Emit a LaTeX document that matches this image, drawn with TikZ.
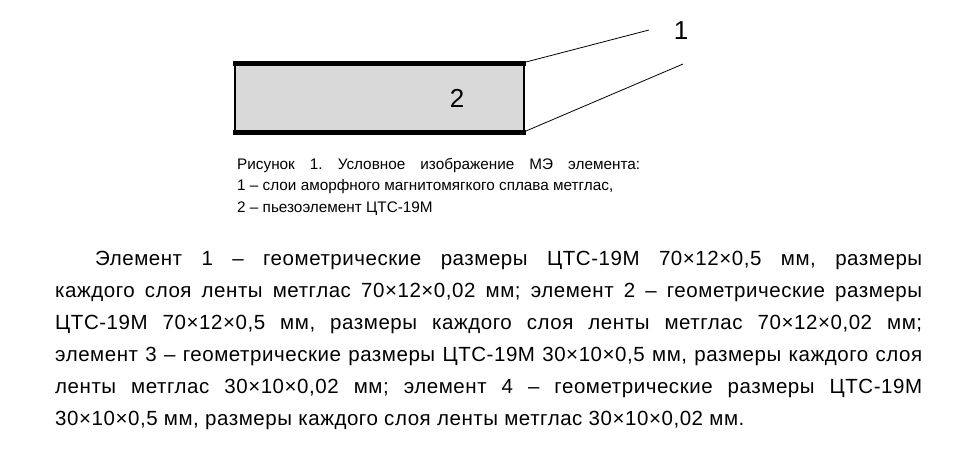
\documentclass[tikz,border=0pt]{standalone}
\usepackage{fontspec}
\setmainfont{Liberation Sans}
\newfontfamily\spacedfont[LetterSpace=2.7]{Liberation Sans}
\frenchspacing
\begin{document}
\begin{tikzpicture}[x=1pt,y=-1pt,
  thin line/.style={line width=0.8pt},
  lbl/.style={inner sep=0pt,font=\fontsize{26}{28}\selectfont}]
\useasboundingbox (0,0) rectangle (966,458);
\fill[gray!30] (235,63) rectangle (524,132);
\draw[line width=1.8pt] (235,63) -- (235,132) (524,63) -- (524,132);
\draw[line width=5pt] (233,63) -- (526,63) (233,132) -- (526,132);
\coordinate (tr) at (526,62);
\coordinate (br) at (526,131);
\coordinate (e1) at (649,30);
\coordinate (e2) at (683,64);
\draw[thin line] (tr) -- (e1);
\draw[thin line] (br) -- (e2);
\node[lbl] (n1) at (681,31) {1};
\node[lbl] (n2) at (457,98) {2};
\node[anchor=north west,inner sep=0pt,align=left,font=\frenchspacing\fontsize{15.3}{21.5}\selectfont] (cap) at (237,158)
 {\makebox[403pt][s]{Рисунок 1. Условное изображение МЭ элемента:}\\
  1 – слои аморфного магнитомягкого сплава метглас,\\
  2 – пьезоэлемент ЦТС-19М};
\node[anchor=north west,inner sep=0pt,text width=867pt,align=justify,font=\spacedfont\fontsize{20.5}{32}\selectfont] (par) at (55,251)
 {\hspace*{40pt}Элемент 1 – геометрические размеры ЦТС-19М 70×12×0,5 мм, размеры\linebreak
 каждого слоя ленты метглас 70×12×0,02 мм; элемент 2 – геометрические размеры\linebreak
 ЦТС-19М 70×12×0,5 мм, размеры каждого слоя ленты метглас 70×12×0,02 мм;\linebreak
 элемент 3 – геометрические размеры ЦТС-19М 30×10×0,5 мм, размеры каждого слоя\linebreak
 ленты метглас 30×10×0,02 мм; элемент 4 – геометрические размеры ЦТС-19М\linebreak
 30×10×0,5 мм, размеры каждого слоя ленты метглас 30×10×0,02 мм.};
\end{tikzpicture}
\end{document}
